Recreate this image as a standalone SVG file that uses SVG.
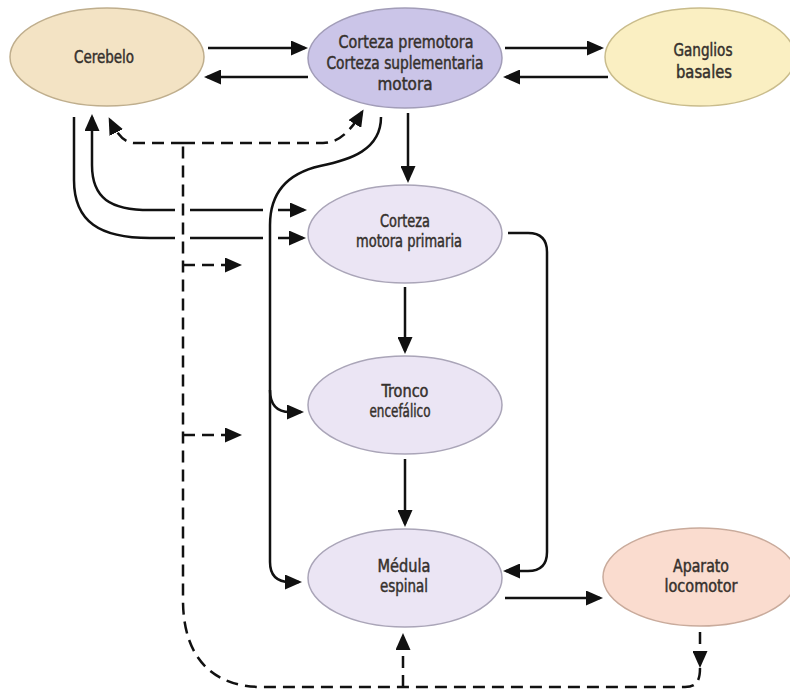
<svg xmlns="http://www.w3.org/2000/svg" width="790" height="693" viewBox="0 0 790 693">
<defs>
<marker id="ah" viewBox="0 0 17 15" markerWidth="17" markerHeight="15" refX="14" refY="7.5" orient="auto" markerUnits="userSpaceOnUse">
<path d="M0,0 L17,7.5 L0,15 z" fill="#111"/>
</marker>
<style>
.n{stroke-width:1.5}
.t{font-family:"DejaVu Sans Condensed","DejaVu Sans",sans-serif;font-size:17px;fill:#35302c;stroke:#35302c;stroke-width:0.45;text-anchor:middle}
.s{fill:none;stroke:#111;stroke-width:2.5}
.d{fill:none;stroke:#111;stroke-width:2.5;stroke-dasharray:12 7}
.a{marker-end:url(#ah)}
</style>
</defs>
<rect width="790" height="693" fill="#fff"/>
<g id="cerebelo"><ellipse class="n" cx="107" cy="57" rx="97" ry="49" fill="#f3e3c4" stroke="#bfae8d"/><text class="t" x="104" y="63" textLength="60" lengthAdjust="spacingAndGlyphs">Cerebelo</text></g>
<g id="corteza-premotora"><ellipse class="n" cx="405" cy="58" rx="97" ry="50" fill="#cbc5e8" stroke="#a29db8"/><text class="t" x="406" y="48" textLength="135" lengthAdjust="spacingAndGlyphs">Corteza premotora</text><text class="t" x="405" y="69" textLength="157" lengthAdjust="spacingAndGlyphs">Corteza suplementaria</text><text class="t" x="405" y="90" textLength="55" lengthAdjust="spacingAndGlyphs">motora</text></g>
<g id="ganglios-basales"><ellipse class="n" cx="700" cy="57" rx="95" ry="49" fill="#faefc2" stroke="#c9bc8c"/><text class="t" x="703" y="56" textLength="59" lengthAdjust="spacingAndGlyphs">Ganglios</text><text class="t" x="704" y="78" textLength="56" lengthAdjust="spacingAndGlyphs">basales</text></g>
<g id="corteza-motora-primaria"><ellipse class="n" cx="405" cy="234" rx="97" ry="49" fill="#ebe5f4" stroke="#aaa5b8"/><text class="t" x="405" y="227" textLength="50" lengthAdjust="spacingAndGlyphs">Corteza</text><text class="t" x="409" y="247" textLength="106" lengthAdjust="spacingAndGlyphs">motora primaria</text></g>
<g id="tronco-encefalico"><ellipse class="n" cx="405" cy="405" rx="97" ry="49" fill="#ebe5f4" stroke="#aaa5b8"/><text class="t" x="405" y="397" textLength="47" lengthAdjust="spacingAndGlyphs">Tronco</text><text class="t" x="400" y="417" textLength="61" lengthAdjust="spacingAndGlyphs">encefálico</text></g>
<g id="medula-espinal"><ellipse class="n" cx="405" cy="578" rx="97" ry="49" fill="#ebe5f4" stroke="#aaa5b8"/><text class="t" x="404" y="572" textLength="53" lengthAdjust="spacingAndGlyphs">Médula</text><text class="t" x="404" y="592" textLength="48" lengthAdjust="spacingAndGlyphs">espinal</text></g>
<g id="aparato-locomotor"><ellipse class="n" cx="700" cy="577" rx="97" ry="49" fill="#fadccf" stroke="#c9ab9c"/><text class="t" x="701" y="572" textLength="56" lengthAdjust="spacingAndGlyphs">Aparato</text><text class="t" x="701" y="592" textLength="73" lengthAdjust="spacingAndGlyphs">locomotor</text></g>
<g id="connectors">
<path class="s a" d="M208,48 H305"/>
<path class="s a" d="M308,77 H207"/>
<path class="s a" d="M505,48 H601"/>
<path class="s a" d="M608,77 H506"/>
<path class="s a" d="M408,113 V180"/>
<path class="s a" d="M405,287 V351"/>
<path class="s a" d="M405,459 V524"/>
<path class="s a" d="M505,598 H600"/>
<path class="s a" d="M508,233 H528 Q547,233 547,252 V552 Q547,571 528,571 H506"/>
<path class="s a" d="M74,117 V180 C74,222 100,238 150,238 H175 M190,238 H263 M278,238 H303"/>
<path class="s" d="M150,210 H175 M190,210 H263 M278,210 H303"/>
<path class="s a" d="M303,210 H304"/>
<path class="s a" d="M150,210 C110,210 92,198 92,165 V117"/>
<path class="s a" d="M381,117 C381,150 350,160 320,166 C285,174 270,195 270,225 V562 Q270,582 290,582 H299"/>
<path class="s a" d="M270,390 Q270,412 290,412 H301"/>
<path class="d a" d="M700,632 V665"/>
<path class="d" d="M700,668 C700,680 697,687 685,687 H262 C215,687 183,660 183,600 V143"/>
<path class="d a" d="M183,143 H323 C338,143 350,132 362,112"/>
<path class="d a" d="M183,143 H135 C125,143 118,136 110,120"/>
<path class="d a" d="M183,265 H239"/>
<path class="d a" d="M183,435 H239"/>
<path class="d a" d="M403,687 V636"/>
</g>
</svg>
